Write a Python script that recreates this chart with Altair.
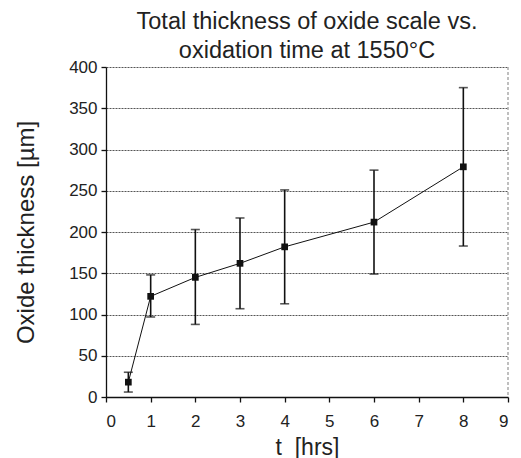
import altair as alt
import pandas as pd

t_hrs = [0.5, 1, 2, 3, 4, 6, 8]
thickness = [18, 122, 145, 162, 182, 212, 279]
err_low = [6, 97, 88, 107, 113, 149, 183]
err_high = [30, 148, 203, 217, 251, 275, 375]

df = pd.DataFrame({"t": t_hrs, "y": thickness, "lo": err_low, "hi": err_high})

FONT = "Liberation Sans"
x_scale = alt.Scale(domain=[0, 9], nice=False, zero=True)
y_scale = alt.Scale(domain=[0, 400], nice=False)

x_enc = alt.X("t:Q", scale=x_scale,
              axis=alt.Axis(title="t\u00a0 [hrs]", values=list(range(10)), grid=False,
                            tickSize=5, labelPadding=11, titlePadding=7,
                            labelFontSize=17, titleFontSize=23, labelFont=FONT, titleFont=FONT,
                            labelColor="#222", titleColor="#222", domainColor="#111",
                            tickColor="#111", titleFontWeight="normal"))
y_enc = alt.Y("y:Q", scale=y_scale,
              axis=alt.Axis(title="Oxide thickness [µm]", values=list(range(0, 401, 50)),
                            grid=True, gridDash=[2, 1], gridColor="#555", gridWidth=1,
                            tickSize=5, labelPadding=4, titlePadding=30,
                            labelFontSize=17, titleFontSize=24, labelFont=FONT, titleFont=FONT,
                            labelColor="#222", titleColor="#222", domainColor="#111",
                            tickColor="#111", titleFontWeight="normal"))

base = alt.Chart(df)
line = base.mark_line(color="#111", strokeWidth=1).encode(x=x_enc, y=y_enc)
pts = base.mark_point(shape="square", filled=True, size=45, color="#111", opacity=1).encode(x="t:Q", y="y:Q")
bars = base.mark_rule(color="#111", strokeWidth=1.6).encode(x="t:Q", y="lo:Q", y2="hi:Q")
cap_lo = base.mark_tick(color="#111", orient="horizontal", size=9, thickness=1.6).encode(x="t:Q", y="lo:Q")
cap_hi = base.mark_tick(color="#111", orient="horizontal", size=9, thickness=1.6).encode(x="t:Q", y="hi:Q")
border = alt.Chart(pd.DataFrame({"b": [9]})).mark_rule(color="#aaa", strokeDash=[3, 2], strokeWidth=1.5).encode(
    x="b:Q", y=alt.value(0), y2=alt.value(330))

chart = alt.layer(border, bars, cap_lo, cap_hi, line, pts).properties(
    width=402, height=330,
    title=alt.TitleParams(["Total thickness of oxide scale vs.", "oxidation time at 1550°C"],
                          fontSize=23.5, font=FONT, fontWeight="normal", color="#222",
                          anchor="middle", frame="group", lineHeight=29, offset=-4),
    autosize=alt.AutoSizeParams(type="none"),
    padding={"left": 98, "top": 59, "right": 5, "bottom": 64},
).configure_view(stroke=None).configure_axis(domainWidth=1.3, tickWidth=1.3)

chart.save("out.html", embed_options={"renderer": "svg", "actions": False})
